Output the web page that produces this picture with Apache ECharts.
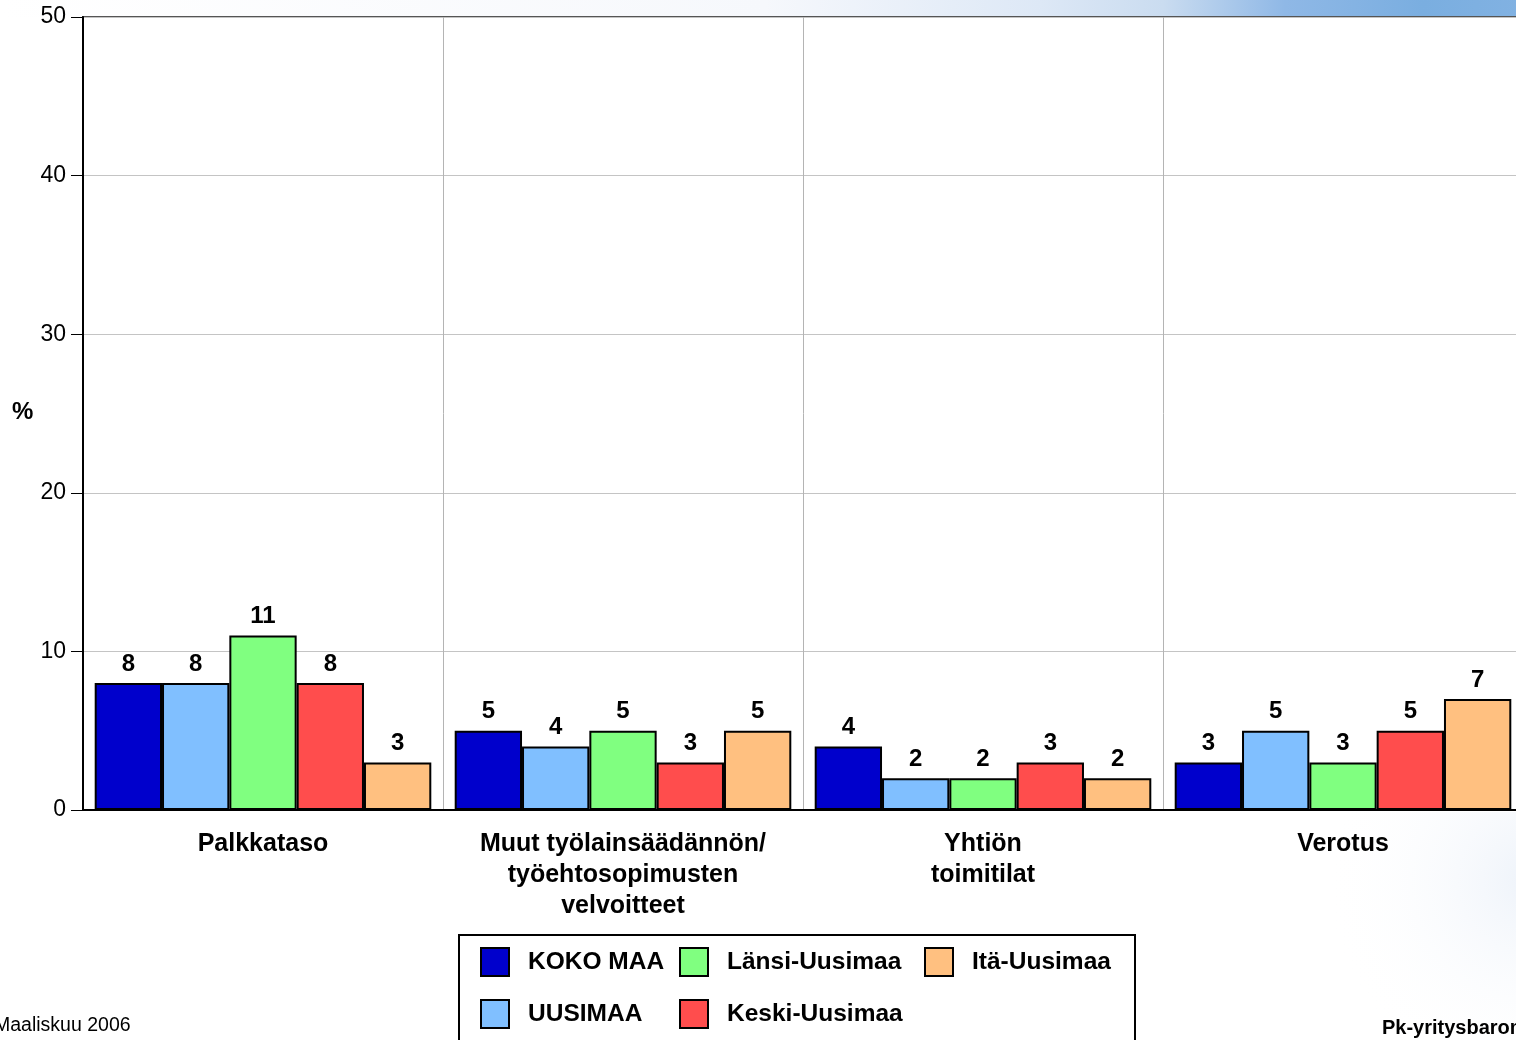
<!DOCTYPE html>
<html><head><meta charset="utf-8">
<script src="https://cdn.jsdelivr.net/npm/echarts@6/dist/echarts.min.js"></script>
<style>html,body{margin:0;padding:0;background:#fff;overflow:hidden}#c{width:1530px;height:1040px}</style>
</head><body><div id="c"></div>
<script>
const categories = ['Palkkataso', 'Muut työlainsäädännön/\ntyöehtosopimusten\nvelvoitteet', 'Yhtiön\ntoimitilat', 'Verotus'];
const seriesNames = ['KOKO MAA', 'UUSIMAA', 'Länsi-Uusimaa', 'Keski-Uusimaa', 'Itä-Uusimaa'];
const kokoMaa = [8, 5, 4, 3];
const uusimaa = [8, 4, 2, 5];
const lansiUusimaa = [11, 5, 2, 3];
const keskiUusimaa = [8, 3, 3, 5];
const itaUusimaa = [3, 5, 2, 7];
const yTicks = [0, 10, 20, 30, 40, 50];
const colors = ['#0000CC', '#80BFFF', '#80FF80', '#FF4D4D', '#FFC080'];
const seriesData = [kokoMaa, uusimaa, lansiUusimaa, keskiUusimaa, itaUusimaa];

const chart = echarts.init(document.getElementById('c'), null, {renderer: 'canvas'});
const FONT = '"Liberation Sans", Arial, sans-serif';
const legendPos = [[480, 947], [480, 999], [679, 947], [679, 999], [924, 947]];
const legends = seriesNames.map((n, i) => ({
  left: legendPos[i][0], top: legendPos[i][1], padding: 0,
  data: [n], itemWidth: 28, itemHeight: 28, icon: 'rect',
  itemStyle: {borderColor: '#000', borderWidth: 2},
  textStyle: {fontFamily: FONT, fontSize: 24.5, fontWeight: 'bold', color: '#000', padding: [0, 0, 0, 14]},
  selectedMode: false
}));
chart.setOption({
  animation: false,
  backgroundColor: '#fff',
  graphic: [
    {type: 'rect', z: -10, shape: {x: 0, y: 0, width: 1530, height: 17},
      style: {fill: new echarts.graphic.LinearGradient(0, 0, 1530, 0, [
        {offset: 0, color: '#ffffff'}, {offset: 0.5, color: '#f6f8fc'}, {offset: 0.68, color: '#dde8f6'},
        {offset: 0.76, color: '#cadcf0'}, {offset: 0.84, color: '#8fb8e6'}, {offset: 0.93, color: '#7aaee0'}, {offset: 1, color: '#82b2e2'}], true)}},
    {type: 'rect', z: -10, shape: {x: 1150, y: 812, width: 380, height: 228},
      style: {fill: new echarts.graphic.RadialGradient(1, 0.3, 0.9, [
        {offset: 0, color: '#eef3fa'}, {offset: 1, color: 'rgba(255,255,255,0)'}])}},
    {type: 'rect', z: 10, shape: {x: 459, y: 935, width: 676, height: 120},
      style: {fill: 'none', stroke: '#000', lineWidth: 2}},
    {type: 'text', left: 12, top: 400, style: {text: '%', font: 'bold 24px ' + FONT, fill: '#000'}},
    {type: 'text', left: -6, top: 1016, style: {text: 'Maaliskuu 2006', font: '19.5px ' + FONT, fill: '#000'}},
    {type: 'text', left: 1382, top: 1018, style: {text: 'Pk-yritysbarometri', font: 'bold 20px ' + FONT, fill: '#000'}}
  ],
  legend: legends,
  grid: {left: 83, top: 17, width: 1440, height: 793, show: true, borderColor: '#555', borderWidth: 2, containLabel: false},
  xAxis: {
    type: 'category', data: categories,
    axisLine: {lineStyle: {color: '#000', width: 2}},
    axisTick: {show: false},
    splitLine: {show: true, lineStyle: {color: '#b4b4b4', width: 1}},
    axisLabel: {fontFamily: FONT, fontSize: 25, fontWeight: 'bold', color: '#000', margin: 19, lineHeight: 31, interval: 0}
  },
  yAxis: {
    type: 'value', min: yTicks[0], max: yTicks[yTicks.length - 1], interval: 10,
    axisLine: {show: true, lineStyle: {color: '#000', width: 2}},
    axisTick: {show: true, length: 12, lineStyle: {color: '#000', width: 1}},
    splitLine: {show: true, lineStyle: {color: '#c4c4c4', width: 1}},
    axisLabel: {fontFamily: FONT, fontSize: 23, color: '#000', margin: 17}
  },
  series: seriesNames.map((n, i) => ({
    name: n, type: 'bar', data: seriesData[i], barGap: '0%', barCategoryGap: '6.5%',
    itemStyle: {color: colors[i], borderColor: '#000', borderWidth: 2},
    label: {show: true, position: 'top', distance: 7, fontFamily: FONT, fontSize: 24, fontWeight: 'bold', color: '#000'}
  }))
});
</script></body></html>
